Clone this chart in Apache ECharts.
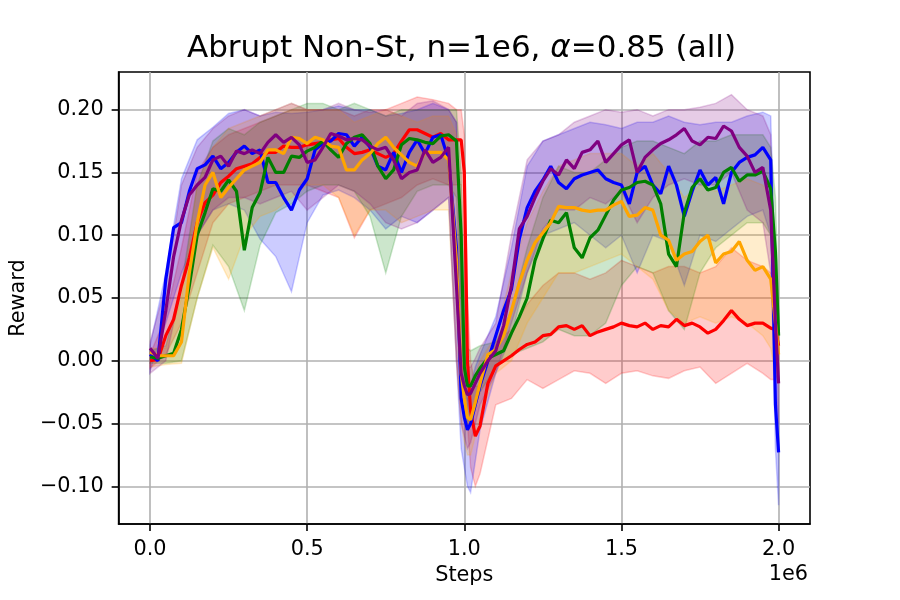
<!DOCTYPE html>
<html>
<head>
<meta charset="utf-8">
<title>Abrupt Non-St, n=1e6</title>
<script src="https://cdn.jsdelivr.net/npm/echarts@6/dist/echarts.min.js"></script>
<style>
  html, body { margin: 0; padding: 0; background: #fff; }
  #chart { width: 900px; height: 600px; }
</style>
</head>
<body>
<div id="chart"></div>
<script>
// x positions of the mean curves (units of 1e6 steps)
const steps = [0, 0.025, 0.05, 0.075, 0.1, 0.125, 0.15, 0.175, 0.2, 0.225, 0.25, 0.275, 0.3, 0.325, 0.35, 0.375, 0.4, 0.425, 0.45, 0.475,
  0.5, 0.525, 0.55, 0.575, 0.6, 0.625, 0.65, 0.675, 0.7, 0.725, 0.75, 0.775, 0.8, 0.825, 0.85, 0.875, 0.9, 0.925, 0.95, 0.975,
  0.99, 1.0, 1.01, 1.02, 1.035, 1.05,
  1.075, 1.1, 1.125, 1.15, 1.175, 1.2, 1.225, 1.25, 1.275, 1.3, 1.325, 1.35, 1.375, 1.4, 1.425, 1.45, 1.475, 1.5, 1.525,
  1.55, 1.575, 1.6, 1.625, 1.65, 1.675, 1.7, 1.725, 1.75, 1.775, 1.8, 1.825, 1.85, 1.875, 1.9, 1.925, 1.95, 1.975,
  1.99, 2.0]

const redMean = [0.0, 0.001, 0.02, 0.033, 0.06, 0.082, 0.11, 0.126, 0.132, 0.142, 0.147, 0.153, 0.155, 0.157, 0.162, 0.166, 0.166, 0.171, 0.17, 0.17,
  0.172, 0.173, 0.174, 0.176, 0.177, 0.17, 0.165, 0.166, 0.168, 0.165, 0.162, 0.165, 0.175, 0.184, 0.184, 0.181, 0.178, 0.181, 0.176, 0.176,
  0.176, 0.15, 0.0, -0.04, -0.06, -0.052,
  -0.018, -0.004, 0.0, 0.004, 0.009, 0.013, 0.015, 0.02, 0.021, 0.027, 0.028, 0.025, 0.028, 0.02, 0.023, 0.025, 0.027, 0.03, 0.028,
  0.027, 0.03, 0.025, 0.028, 0.027, 0.033, 0.028, 0.03, 0.027, 0.022, 0.025, 0.032, 0.04, 0.033, 0.028, 0.03, 0.03, 0.026,
  0.025, 0.012]

const blueMean = [0.005, 0.0, 0.065, 0.106, 0.11, 0.135, 0.153, 0.156, 0.163, 0.153, 0.158, 0.166, 0.171, 0.165, 0.168, 0.142, 0.142, 0.13, 0.12, 0.136,
  0.145, 0.168, 0.173, 0.175, 0.181, 0.18, 0.171, 0.178, 0.17, 0.155, 0.152, 0.166, 0.15, 0.166, 0.176, 0.165, 0.178, 0.18, 0.16, 0.09,
  -0.03, -0.045, -0.055, -0.05, -0.035, -0.02,
  0.0, 0.02, 0.04, 0.057, 0.097, 0.122, 0.135, 0.144, 0.155, 0.142, 0.137, 0.145, 0.148, 0.15, 0.152, 0.145, 0.142, 0.14, 0.125,
  0.15, 0.155, 0.14, 0.133, 0.155, 0.14, 0.115, 0.135, 0.152, 0.14, 0.146, 0.125, 0.15, 0.158, 0.162, 0.164, 0.17, 0.16,
  -0.035, -0.073]

const greenMean = [0.003, 0.002, 0.004, 0.006, 0.025, 0.06, 0.1, 0.118, 0.137, 0.135, 0.144, 0.135, 0.088, 0.122, 0.134, 0.162, 0.15, 0.15, 0.163, 0.162,
  0.167, 0.17, 0.175, 0.168, 0.162, 0.173, 0.178, 0.18, 0.173, 0.155, 0.145, 0.152, 0.172, 0.177, 0.176, 0.174, 0.173, 0.179, 0.18, 0.175,
  0.1, -0.005, -0.02, -0.02, -0.012, -0.006,
  0.002, 0.005, 0.008, 0.022, 0.035, 0.05, 0.08, 0.097, 0.112, 0.11, 0.118, 0.09, 0.082, 0.098, 0.104, 0.116, 0.128, 0.136, 0.138,
  0.142, 0.143, 0.14, 0.125, 0.085, 0.075, 0.118, 0.138, 0.145, 0.136, 0.138, 0.15, 0.154, 0.143, 0.148, 0.148, 0.151, 0.137,
  0.087, 0.02]

const orangeMean = [0.007, 0.004, 0.004, 0.004, 0.015, 0.07, 0.11, 0.14, 0.15, 0.13, 0.138, 0.145, 0.152, 0.155, 0.158, 0.168, 0.168, 0.165, 0.178, 0.177,
  0.173, 0.178, 0.176, 0.171, 0.17, 0.152, 0.152, 0.16, 0.165, 0.173, 0.178, 0.17, 0.164, 0.158, 0.155, 0.166, 0.166, 0.166, 0.16, 0.08,
  -0.01, -0.03, -0.045, -0.047, -0.033, -0.018,
  0.005, 0.009, 0.02, 0.04, 0.062, 0.08, 0.094, 0.102, 0.11, 0.123, 0.122, 0.122, 0.12, 0.119, 0.12, 0.12, 0.124, 0.127, 0.115,
  0.116, 0.122, 0.12, 0.1, 0.096, 0.08, 0.085, 0.087, 0.095, 0.1, 0.078, 0.085, 0.087, 0.095, 0.08, 0.072, 0.075, 0.065,
  0.03, 0.005]

const purpleMean = [0.01, 0.002, 0.04, 0.083, 0.112, 0.132, 0.14, 0.146, 0.16, 0.163, 0.155, 0.167, 0.165, 0.168, 0.165, 0.174, 0.18, 0.174, 0.178, 0.172,
  0.158, 0.16, 0.17, 0.181, 0.179, 0.176, 0.177, 0.176, 0.171, 0.168, 0.17, 0.16, 0.145, 0.15, 0.152, 0.168, 0.158, 0.162, 0.17, 0.06,
  -0.01, -0.02, -0.027, -0.026, -0.018, -0.01,
  0.0, 0.008, 0.028, 0.06, 0.105, 0.115, 0.13, 0.143, 0.153, 0.148, 0.16, 0.153, 0.166, 0.168, 0.175, 0.158, 0.165, 0.172, 0.176,
  0.15, 0.162, 0.168, 0.173, 0.176, 0.18, 0.185, 0.175, 0.172, 0.178, 0.177, 0.187, 0.183, 0.17, 0.163, 0.15, 0.154, 0.12,
  0.03, -0.018]

// x positions of the shaded spread bands
const bandSteps = [0, 0.05, 0.1, 0.15, 0.2, 0.25, 0.3, 0.35, 0.4, 0.45, 0.5, 0.55, 0.6, 0.65, 0.7, 0.75, 0.8, 0.85, 0.9, 0.95,
  0.975, 0.99, 1.0, 1.01, 1.02, 1.035, 1.05,
  1.1, 1.15, 1.2, 1.25, 1.3, 1.35, 1.4, 1.45, 1.5, 1.55, 1.6, 1.65, 1.7, 1.75, 1.8, 1.85, 1.9, 1.95,
  1.975, 1.99, 2.0]

const redHigh = [0.005, 0.035, 0.09, 0.15, 0.17, 0.18, 0.185, 0.19, 0.195, 0.2, 0.2, 0.2, 0.2, 0.195, 0.2, 0.2, 0.205, 0.21, 0.208, 0.205,
  0.2, 0.2, 0.18, 0.05, 0.0, -0.02, -0.02,
  0.015, 0.025, 0.045, 0.06, 0.07, 0.07, 0.065, 0.07, 0.08, 0.075, 0.07, 0.075, 0.075, 0.07, 0.075, 0.09, 0.08, 0.075,
  0.07, 0.065, 0.035]
const redLow = [-0.006, 0.005, 0.03, 0.07, 0.11, 0.125, 0.13, 0.135, 0.14, 0.14, 0.14, 0.135, 0.13, 0.098, 0.12, 0.125, 0.13, 0.14, 0.145, 0.14,
  0.14, 0.14, 0.06, -0.05, -0.085, -0.1, -0.09,
  -0.035, -0.03, -0.015, -0.022, -0.015, -0.008, -0.01, -0.018, -0.01, -0.008, -0.012, -0.014, -0.008, -0.005, -0.018, -0.01, -0.002, -0.01,
  -0.015, -0.015, -0.01]

const blueHigh = [0.012, 0.07, 0.145, 0.176, 0.186, 0.197, 0.2, 0.195, 0.198, 0.197, 0.198, 0.2, 0.203, 0.2, 0.2, 0.195, 0.197, 0.2, 0.205, 0.2,
  0.19, 0.05, -0.015, -0.03, -0.02, -0.005, 0.005,
  0.035, 0.09, 0.155, 0.175, 0.18, 0.185, 0.19, 0.188, 0.185, 0.19, 0.19, 0.195, 0.19, 0.188, 0.19, 0.19, 0.195, 0.198,
  0.195, 0.06, -0.05]
const blueLow = [-0.008, 0.03, 0.07, 0.1, 0.12, 0.125, 0.12, 0.097, 0.083, 0.055, 0.11, 0.132, 0.136, 0.13, 0.12, 0.105, 0.115, 0.11, 0.12, 0.13,
  0.0, -0.07, -0.085, -0.1, -0.105, -0.08, -0.055,
  -0.01, 0.02, 0.07, 0.1, 0.105, 0.11, 0.1, 0.09, 0.1, 0.07, 0.1, 0.095, 0.06, 0.1, 0.095, 0.105, 0.115, 0.12,
  0.1, -0.07, -0.115]

const greenHigh = [0.008, 0.012, 0.06, 0.14, 0.175, 0.185, 0.18, 0.19, 0.195, 0.2, 0.205, 0.205, 0.2, 0.205, 0.2, 0.195, 0.2, 0.2, 0.2, 0.2,
  0.2, 0.15, 0.03, 0.01, 0.008, 0.01, 0.012,
  0.015, 0.04, 0.09, 0.13, 0.155, 0.15, 0.15, 0.16, 0.17, 0.175, 0.175, 0.17, 0.165, 0.175, 0.175, 0.18, 0.18, 0.18,
  0.17, 0.13, 0.04]
const greenLow = [-0.002, -0.002, 0.0, 0.05, 0.092, 0.075, 0.04, 0.092, 0.118, 0.125, 0.135, 0.14, 0.14, 0.135, 0.115, 0.07, 0.115, 0.135, 0.14, 0.14,
  0.13, 0.03, -0.04, -0.05, -0.045, -0.035, -0.025,
  -0.005, 0.005, 0.01, 0.015, 0.025, 0.02, 0.02, 0.03, 0.06, 0.075, 0.07, 0.04, 0.025, 0.07, 0.09, 0.1, 0.11, 0.11,
  0.1, 0.04, 0.0]

const orangeHigh = [0.01, 0.01, 0.05, 0.14, 0.17, 0.185, 0.19, 0.195, 0.2, 0.205, 0.2, 0.2, 0.2, 0.19, 0.195, 0.2, 0.195, 0.19, 0.195, 0.195,
  0.18, 0.05, -0.005, -0.02, -0.02, -0.01, 0.0,
  0.02, 0.07, 0.11, 0.135, 0.155, 0.16, 0.165, 0.165, 0.165, 0.155, 0.165, 0.15, 0.13, 0.14, 0.135, 0.14, 0.145, 0.14,
  0.13, 0.06, 0.02]
const orangeLow = [-0.005, -0.003, -0.002, 0.05, 0.09, 0.065, 0.099, 0.115, 0.12, 0.13, 0.14, 0.14, 0.13, 0.1, 0.12, 0.12, 0.11, 0.115, 0.12, 0.12,
  0.0, -0.05, -0.065, -0.075, -0.075, -0.06, -0.045,
  -0.01, 0.0, 0.03, 0.05, 0.07, 0.07, 0.075, 0.08, 0.085, 0.075, 0.065, 0.04, 0.03, 0.035, 0.03, 0.035, 0.03, 0.02,
  0.01, -0.01, -0.01]

const purpleHigh = [0.015, 0.06, 0.14, 0.17, 0.185, 0.195, 0.2, 0.195, 0.2, 0.205, 0.2, 0.2, 0.205, 0.2, 0.198, 0.2, 0.195, 0.205, 0.207, 0.2,
  0.19, 0.06, 0.005, -0.005, -0.005, 0.002, 0.01,
  0.03, 0.1, 0.16, 0.175, 0.18, 0.19, 0.195, 0.2, 0.198, 0.2, 0.195, 0.2, 0.2, 0.202, 0.205, 0.212, 0.2, 0.195,
  0.18, 0.06, 0.0]
const purpleLow = [-0.01, 0.0, 0.06, 0.1, 0.12, 0.13, 0.13, 0.125, 0.13, 0.135, 0.12, 0.13, 0.14, 0.135, 0.125, 0.11, 0.105, 0.11, 0.12, 0.13,
  0.0, -0.05, -0.06, -0.07, -0.065, -0.05, -0.035,
  -0.01, 0.03, 0.07, 0.105, 0.12, 0.12, 0.13, 0.125, 0.135, 0.11, 0.13, 0.14, 0.145, 0.14, 0.14, 0.15, 0.12, 0.11,
  0.07, -0.02, -0.05]

const xTicks = [0, 0.5, 1.0, 1.5, 2.0]
const yTicks = [-0.10, -0.05, 0.0, 0.05, 0.10, 0.15, 0.20]

const FONT = 'DejaVu Sans'

const runs = [
  { color: 'red', fill: 'rgba(255,0,0,0.2)', mean: redMean, low: redLow, high: redHigh },
  { color: 'blue', fill: 'rgba(0,0,255,0.2)', mean: blueMean, low: blueLow, high: blueHigh },
  { color: 'green', fill: 'rgba(0,128,0,0.2)', mean: greenMean, low: greenLow, high: greenHigh },
  { color: 'orange', fill: 'rgba(255,165,0,0.2)', mean: orangeMean, low: orangeLow, high: orangeHigh },
  { color: 'purple', fill: 'rgba(128,0,128,0.2)', mean: purpleMean, low: purpleLow, high: purpleHigh },
]

function bandSeries(run) {
  return {
    type: 'custom',
    silent: true,
    data: [[0, 0]],
    renderItem(params, api) {
      let pts = []
      for (let i = 0; i < bandSteps.length; i++) {
        pts.push(api.coord([bandSteps[i], run.high[i]]))
      }
      for (let i = bandSteps.length - 1; i >= 0; i--) {
        pts.push(api.coord([bandSteps[i], run.low[i]]))
      }
      return {
        type: 'polygon',
        shape: { points: pts },
        style: { fill: run.fill, stroke: run.fill, lineWidth: 1.5 },
      }
    },
  }
}

function lineSeries(run) {
  return {
    type: 'line',
    silent: true,
    symbol: 'none',
    data: steps.map((s, i) => [s, run.mean[i]]),
    lineStyle: { color: run.color, width: 3.2 },
    itemStyle: { color: run.color },
  }
}

let chart = echarts.init(document.getElementById('chart'))

let option = {
  animation: false,
  backgroundColor: '#fff',
  title: {
    text: 'Abrupt Non-St, n=1e6, {a|α}=0.85 (all)',
    left: 461.5,
    top: 33,
    padding: 0,
    textAlign: 'center',
    textStyle: {
      fontFamily: FONT,
      fontSize: 31,
      fontWeight: 'normal',
      color: '#000',
      rich: {
        a: { fontFamily: FONT, fontSize: 31, fontStyle: 'italic', color: '#000' },
      },
    },
  },
  grid: {
    left: 113,
    right: 90,
    top: 72,
    bottom: 76,
    show: true,
    borderColor: '#000',
    borderWidth: 1.6,
  },
  xAxis: {
    type: 'value',
    min: -0.1,
    max: 2.1,
    name: 'Steps',
    nameLocation: 'middle',
    nameGap: 41,
    nameTextStyle: { fontFamily: FONT, fontSize: 20.8, color: '#000' },
    axisLine: { show: true, onZero: false, lineStyle: { color: '#000', width: 1.6 } },
    axisTick: { customValues: xTicks, length: 7, lineStyle: { color: '#000', width: 1.6 } },
    axisLabel: {
      customValues: xTicks,
      formatter: (v) => v.toFixed(1),
      fontFamily: FONT,
      fontSize: 20.8,
      color: '#000',
      margin: 15,
    },
    splitLine: { show: true, lineStyle: { color: '#b0b0b0', width: 1.6 } },
  },
  yAxis: {
    type: 'value',
    min: -0.13,
    max: 0.23,
    name: 'Reward',
    nameLocation: 'middle',
    nameGap: 88,
    nameRotate: 90,
    nameTextStyle: { fontFamily: FONT, fontSize: 20.8, color: '#000' },
    axisLine: { show: true, onZero: false, lineStyle: { color: '#000', width: 1.6 } },
    axisTick: { customValues: yTicks, length: 7, lineStyle: { color: '#000', width: 1.6 } },
    axisLabel: {
      customValues: yTicks,
      formatter: (v) => (v < -1e-9 ? '\u2212' : '') + Math.abs(v).toFixed(2),
      fontFamily: FONT,
      fontSize: 20.8,
      color: '#000',
      margin: 15,
    },
    splitLine: { show: true, lineStyle: { color: '#b0b0b0', width: 1.6 } },
  },
  graphic: [
    {
      type: 'text',
      x: 808,
      y: 575,
      style: {
        text: '1e6',
        align: 'right',
        verticalAlign: 'middle',
        fontFamily: FONT,
        fontSize: 20.8,
        fill: '#000',
      },
    },
  ],
  series: runs.map(bandSeries).concat(runs.map(lineSeries)),
}

chart.setOption(option)
</script>
</body>
</html>
